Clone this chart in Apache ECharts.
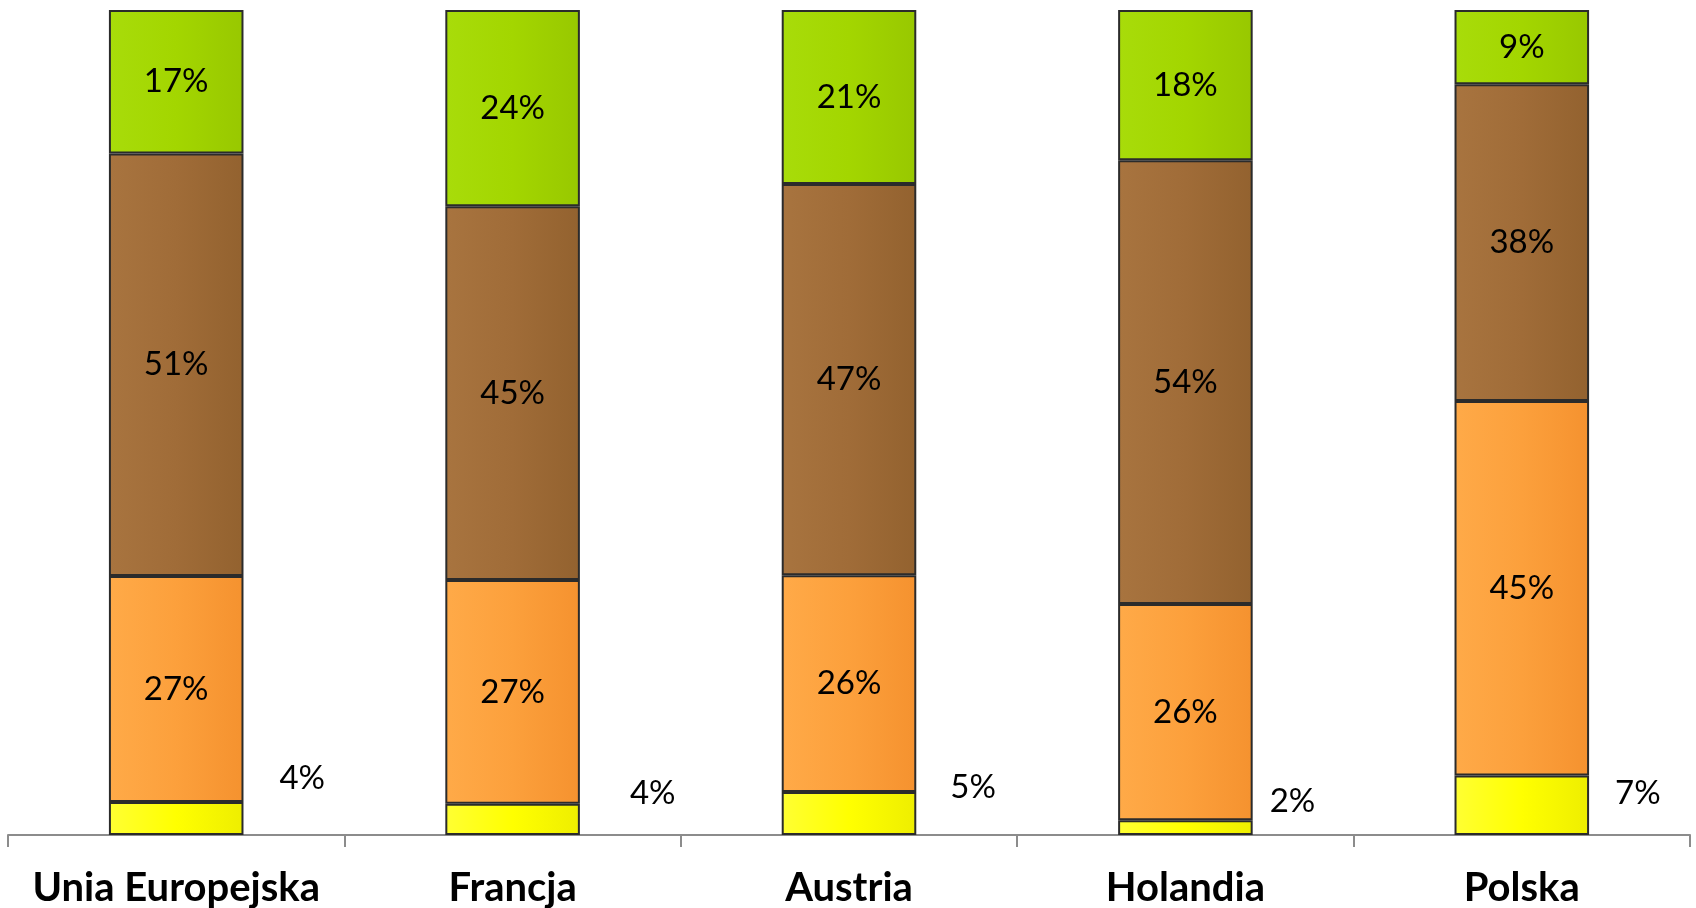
<!DOCTYPE html>
<html>
<head>
<meta charset="utf-8">
<script src="https://cdn.jsdelivr.net/npm/echarts@6/dist/echarts.min.js"></script>
<style>
html,body{margin:0;padding:0;background:#fff;}
#chart{width:1696px;height:908px;}
</style>
</head>
<body>
<div id="chart"></div>
<script>
// ---- data ----
const categories = ['Unia Europejska', 'Francja', 'Austria', 'Holandia', 'Polska'];
const yellowValues = [4.0, 3.8, 5.2, 1.8, 7.2];
const orangeValues = [27.4, 27.1, 26.3, 26.2, 45.4];
const brownValues  = [51.2, 45.3, 47.4, 53.8, 38.4];
const greenValues  = [17.4, 23.8, 21.1, 18.2, 9.0];

// ---- styling ----
const FONT = 'Lato, "Open Sans", sans-serif';
// nudges for the small outside labels (label placement only)
const smallLabelNudge = [[36, -40], [50, -26], [34, -26], [17, -26], [26, -12]];

function grad(light, mid, dark) {
  return new echarts.graphic.LinearGradient(0, 0, 1, 0, [
    {offset: 0, color: light}, {offset: 0.5, color: mid}, {offset: 1, color: dark}
  ]);
}
const pct = p => Math.round(p.value) + '%';
const inLabel = {
  show: true, position: 'inside', color: '#000',
  fontFamily: FONT, fontSize: 33, formatter: pct
};
function mk(name, data, color, label) {
  return {
    name, type: 'bar', stack: 'total', data,
    barWidth: '40%',
    itemStyle: {color, borderColor: '#2b2b2b', borderWidth: 2},
    label
  };
}
const yellowData = yellowValues.map((v, i) => ({
  value: v,
  label: {offset: smallLabelNudge[i]}
}));
const chart = echarts.init(document.getElementById('chart'));
chart.setOption({
  animation: false,
  grid: {left: 8, right: 6, top: 10, bottom: 73, containLabel: false},
  xAxis: {
    type: 'category', data: categories,
    axisLine: {lineStyle: {color: '#8c8c8c', width: 2}},
    axisTick: {show: true, interval: 0, length: 12, lineStyle: {color: '#8c8c8c', width: 2}},
    axisLabel: {interval: 0, hideOverlap: false, color: '#000', fontFamily: FONT, fontWeight: 'bold', fontSize: 40, margin: 33}
  },
  yAxis: {type: 'value', min: 0, max: 100, show: false},
  series: [
    mk('yellow', yellowData, grad('#ffff33', '#ffff00', '#eeee00'), {
      show: true, position: 'right', distance: 0,
      color: '#000', fontFamily: FONT, fontSize: 33, formatter: pct
    }),
    mk('orange', orangeValues, grad('#ffaa48', '#fca03c', '#f5922f'), inLabel),
    mk('brown', brownValues, grad('#a8743f', '#a06c38', '#93622f'), inLabel),
    mk('green', greenValues, grad('#a8dc0a', '#a3d600', '#98c800'), inLabel)
  ]
});
</script>
</body>
</html>
